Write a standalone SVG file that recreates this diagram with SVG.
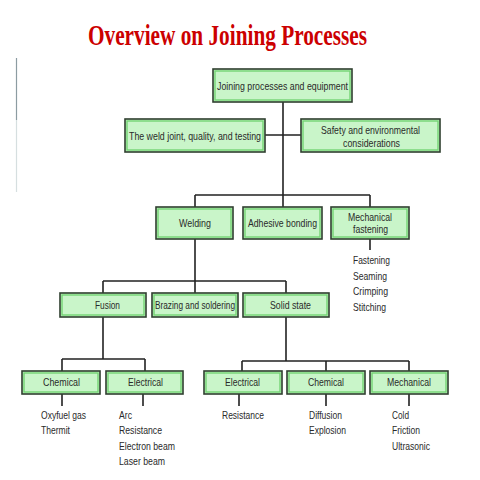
<svg xmlns="http://www.w3.org/2000/svg" width="480" height="480" viewBox="0 0 480 480">
<style>
.box{fill:#c9f5c9;stroke:#2f3f2f;stroke-width:1.6}
.inner{fill:none;stroke:#74d474;stroke-width:1.4}
.lbl{font-family:"Liberation Sans",Arial,sans-serif;font-size:11.5px;fill:#2a2a2a}
.lst{font-family:"Liberation Sans",Arial,sans-serif;font-size:11.5px;fill:#2a2a2a}
.ln{stroke:#222;stroke-width:1.6;fill:none}
.title{font-family:"Liberation Serif","Times New Roman",serif;font-size:29px;font-weight:bold;fill:#cc0000}
</style>
<rect width="480" height="480" fill="#ffffff"/>
<text class="title" x="88" y="45" textLength="279" lengthAdjust="spacingAndGlyphs">Overview on Joining Processes</text>
<line x1="16.5" y1="58" x2="16.5" y2="120" stroke="#8c9ca2" stroke-width="1.2"/>
<line x1="16.5" y1="120" x2="16.5" y2="192" stroke="#d6dfe0" stroke-width="1.2"/>

<g id="connectors">
<path class="ln" d="M283,102 V195 M265,135 H301 M195,195 H370 M195,195 V207 M283,195 V207 M370,195 V207 M370,239 V250"/>
<path class="ln" d="M195,239 V281 M103,281 H286 M103,281 V293 M195,281 V293 M286,281 V293"/>
<path class="ln" d="M103,317 V359 M62,359 H145 M62,359 V371 M145,359 V371"/>
<path class="ln" d="M286,317 V361 M242,361 H409 M242,361 V371 M326,361 V371 M409,361 V371"/>
<path class="ln" d="M62,394 V406 M143,394 V406 M239,394 V406 M326,394 V406 M409,394 V406"/>
</g>

<g id="n-joining">
<rect class="box" x="213" y="69" width="139" height="33"/><rect class="inner" x="215" y="71" width="135" height="29"/>
<text class="lbl" x="217" y="90" textLength="131" lengthAdjust="spacingAndGlyphs">Joining processes and equipment</text>
</g>
<g id="n-weldjoint">
<rect class="box" x="125" y="119" width="140" height="33"/><rect class="inner" x="127" y="121" width="136" height="29"/>
<text class="lbl" x="129" y="139.5" textLength="132" lengthAdjust="spacingAndGlyphs">The weld joint, quality, and testing</text>
</g>
<g id="n-safety">
<rect class="box" x="301" y="119" width="139" height="33"/><rect class="inner" x="303" y="121" width="135" height="29"/>
<text class="lbl" x="321" y="134" textLength="99" lengthAdjust="spacingAndGlyphs">Safety and environmental</text>
<text class="lbl" x="343" y="147" textLength="57" lengthAdjust="spacingAndGlyphs">considerations</text>
</g>
<g id="n-welding">
<rect class="box" x="156" y="207" width="77" height="32"/><rect class="inner" x="158" y="209" width="73" height="28"/>
<text class="lbl" x="179" y="227" textLength="32" lengthAdjust="spacingAndGlyphs">Welding</text>
</g>
<g id="n-adhesive">
<rect class="box" x="243" y="207" width="79" height="32"/><rect class="inner" x="245" y="209" width="75" height="28"/>
<text class="lbl" x="248" y="227" textLength="69" lengthAdjust="spacingAndGlyphs">Adhesive bonding</text>
</g>
<g id="n-mechfast">
<rect class="box" x="331" y="207" width="78" height="32"/><rect class="inner" x="333" y="209" width="74" height="28"/>
<text class="lbl" x="348" y="221" textLength="44" lengthAdjust="spacingAndGlyphs">Mechanical</text>
<text class="lbl" x="353" y="233" textLength="35" lengthAdjust="spacingAndGlyphs">fastening</text>
</g>
<g id="l-mechfast">
<text class="lst" x="353" y="264" textLength="37" lengthAdjust="spacingAndGlyphs">Fastening</text>
<text class="lst" x="353" y="280" textLength="34" lengthAdjust="spacingAndGlyphs">Seaming</text>
<text class="lst" x="353" y="295" textLength="35" lengthAdjust="spacingAndGlyphs">Crimping</text>
<text class="lst" x="353" y="311" textLength="33" lengthAdjust="spacingAndGlyphs">Stitching</text>
</g>
<g id="n-fusion">
<rect class="box" x="60" y="293" width="86" height="24"/><rect class="inner" x="62" y="295" width="82" height="20"/>
<text class="lbl" x="95" y="309" textLength="25" lengthAdjust="spacingAndGlyphs">Fusion</text>
</g>
<g id="n-brazing">
<rect class="box" x="152" y="293" width="86" height="24"/><rect class="inner" x="154" y="295" width="82" height="20"/>
<text class="lbl" x="155" y="309" textLength="80" lengthAdjust="spacingAndGlyphs">Brazing and soldering</text>
</g>
<g id="n-solid">
<rect class="box" x="243" y="293" width="86" height="24"/><rect class="inner" x="245" y="295" width="82" height="20"/>
<text class="lbl" x="270" y="309" textLength="41" lengthAdjust="spacingAndGlyphs">Solid state</text>
</g>
<g id="n-chem1">
<rect class="box" x="22" y="371" width="78" height="23"/><rect class="inner" x="24" y="373" width="74" height="19"/>
<text class="lbl" x="43" y="386" textLength="37" lengthAdjust="spacingAndGlyphs">Chemical</text>
</g>
<g id="n-elec1">
<rect class="box" x="106" y="371" width="77" height="23"/><rect class="inner" x="108" y="373" width="73" height="19"/>
<text class="lbl" x="128" y="386" textLength="35" lengthAdjust="spacingAndGlyphs">Electrical</text>
</g>
<g id="n-elec2">
<rect class="box" x="204" y="371" width="78" height="23"/><rect class="inner" x="206" y="373" width="74" height="19"/>
<text class="lbl" x="225" y="386" textLength="35" lengthAdjust="spacingAndGlyphs">Electrical</text>
</g>
<g id="n-chem2">
<rect class="box" x="287" y="371" width="78" height="23"/><rect class="inner" x="289" y="373" width="74" height="19"/>
<text class="lbl" x="308" y="386" textLength="36" lengthAdjust="spacingAndGlyphs">Chemical</text>
</g>
<g id="n-mech">
<rect class="box" x="370" y="371" width="78" height="23"/><rect class="inner" x="372" y="373" width="74" height="19"/>
<text class="lbl" x="387" y="386" textLength="44" lengthAdjust="spacingAndGlyphs">Mechanical</text>
</g>
<g id="l-chem1">
<text class="lst" x="41" y="419" textLength="45" lengthAdjust="spacingAndGlyphs">Oxyfuel gas</text>
<text class="lst" x="41" y="434" textLength="29" lengthAdjust="spacingAndGlyphs">Thermit</text>
</g>
<g id="l-elec1">
<text class="lst" x="119" y="419" textLength="13" lengthAdjust="spacingAndGlyphs">Arc</text>
<text class="lst" x="119" y="434" textLength="43" lengthAdjust="spacingAndGlyphs">Resistance</text>
<text class="lst" x="119" y="450" textLength="56" lengthAdjust="spacingAndGlyphs">Electron beam</text>
<text class="lst" x="119" y="465" textLength="46" lengthAdjust="spacingAndGlyphs">Laser beam</text>
</g>
<g id="l-elec2">
<text class="lst" x="222" y="419" textLength="42" lengthAdjust="spacingAndGlyphs">Resistance</text>
</g>
<g id="l-chem2">
<text class="lst" x="309" y="419" textLength="33" lengthAdjust="spacingAndGlyphs">Diffusion</text>
<text class="lst" x="309" y="434" textLength="37" lengthAdjust="spacingAndGlyphs">Explosion</text>
</g>
<g id="l-mech">
<text class="lst" x="392" y="419" textLength="17" lengthAdjust="spacingAndGlyphs">Cold</text>
<text class="lst" x="392" y="434" textLength="28" lengthAdjust="spacingAndGlyphs">Friction</text>
<text class="lst" x="392" y="450" textLength="38" lengthAdjust="spacingAndGlyphs">Ultrasonic</text>
</g>
</svg>
